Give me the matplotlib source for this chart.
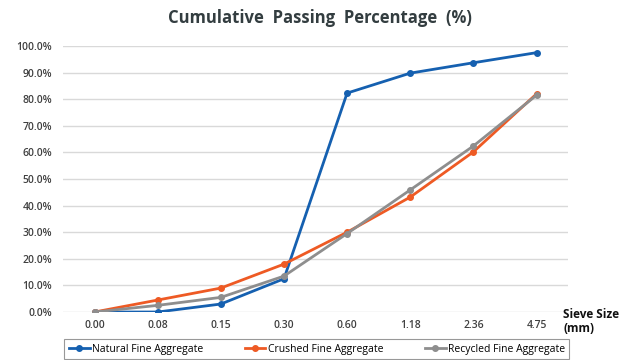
import matplotlib
matplotlib.use('Agg')
import matplotlib.pyplot as plt
from matplotlib.ticker import FuncFormatter

plt.rcParams['font.family'] = ['Open Sans', 'DejaVu Sans']

# sieve sizes (x categories)
sieve_sizes = ['0.00', '0.08', '0.15', '0.30', '0.60', '1.18', '2.36', '4.75']

# cumulative passing (%)
natural = [0, 0, 3, 12.5, 82.3, 89.8, 93.7, 97.5]
crushed = [0, 4.5, 9, 18, 30, 43.2, 60.2, 82]
recycled = [0, 2.5, 5.5, 13.5, 29.5, 45.9, 62.4, 81.5]

series_names = ['Natural Fine Aggregate', 'Crushed Fine Aggregate', 'Recycled Fine Aggregate']
colors = ['#1560B0', '#EE5A24', '#8E8E8E']

fig = plt.figure(figsize=(6.31, 3.6), dpi=100)
ax = fig.add_axes([0.0998, 0.1333, 0.8005, 0.7389])

x = list(range(len(sieve_sizes)))
for vals, name, c in zip([natural, crushed, recycled], series_names, colors):
    ax.plot(x, vals, color=c, lw=2, marker='o', ms=4, label=name)

ax.set_xlim(-0.5, len(sieve_sizes) - 0.5)
ax.set_ylim(0, 100)
ax.set_yticks(range(0, 101, 10))
ax.yaxis.set_major_formatter(FuncFormatter(lambda v, p: f'{v:.1f}%'))
ax.set_xticks(x)
ax.set_xticklabels(sieve_sizes)

ax.grid(axis='y', color='#D9D9D9', lw=1)
ax.set_axisbelow(True)
for s in ax.spines.values():
    s.set_visible(False)
ax.tick_params(length=0, labelsize=7.5, labelcolor='#404040')
ax.tick_params(axis='y', pad=8)
ax.tick_params(axis='x', pad=6)
for lab in ax.get_xticklabels() + ax.get_yticklabels():
    lab.set_fontweight('semibold')

fig.text(0.507, 0.95, 'Cumulative  Passing  Percentage  (%)', ha='center', va='center',
         fontsize=12, fontweight='bold', color='#333D40')
fig.text(0.893, 0.107, 'Sieve Size\n(mm)', ha='left', va='center', fontsize=8.5,
         fontweight='bold', color='#111111', linespacing=1.1)

leg = fig.legend(loc='upper center', bbox_to_anchor=(0.502, 0.058), ncol=3, fontsize=7.5,
                 frameon=True, fancybox=False, edgecolor='#7F7F7F', handlelength=2.0,
                 columnspacing=4.0, handletextpad=0.2, borderpad=0.45, borderaxespad=0.0)
leg.get_frame().set_linewidth(0.8)

fig.savefig('out.png', dpi=100)
